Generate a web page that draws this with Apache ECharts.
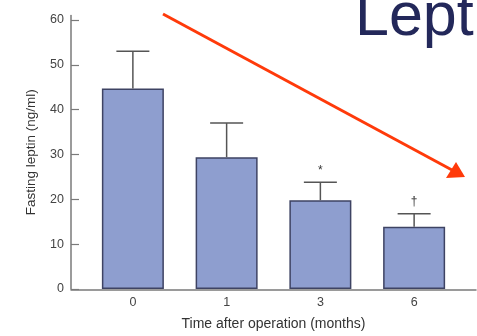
<!DOCTYPE html>
<html><head><meta charset="utf-8">
<script src="https://cdn.jsdelivr.net/npm/echarts@6/dist/echarts.min.js"></script>
<style>html,body{margin:0;padding:0;background:#fff}#c{width:477px;height:336px}</style>
</head><body><div id="c"></div>
<script>
var categories = ['0', '1', '3', '6'];
var means = [44.7, 29.4, 19.8, 13.9];
var upperErr = [53.0, 37.0, 23.8, 16.8];
var marks = ['', '', '*', '†'];
var yTicks = [0, 10, 20, 30, 40, 50, 60];

var chart = echarts.init(document.getElementById('c'));
var axisCol = '#7a7a7a';
var option = {
  animation: false,
  grid: [
    {left: 86, right: 16, top: 15.5, bottom: 46},
    {left: 71, right: 1, top: 15.5, bottom: 46}
  ],
  xAxis: [
    {type: 'category', gridIndex: 0, data: categories,
     axisLine: {show: false}, axisTick: {show: false},
     axisLabel: {color: '#444', fontSize: 12.5, fontFamily: 'Liberation Sans', margin: 7},
     name: 'Time after operation (months)', nameLocation: 'middle', nameGap: 28,
     nameTextStyle: {color: '#333', fontSize: 14, fontFamily: 'Liberation Sans'}},
    {type: 'value', gridIndex: 1, min: 0, max: 1,
     axisLine: {show: true, lineStyle: {color: axisCol, width: 1.5}},
     axisTick: {show: false}, axisLabel: {show: false}, splitLine: {show: false}}
  ],
  yAxis: [
    {type: 'value', gridIndex: 0, min: 0, max: 61, interval: 10, offset: 15,
     axisLine: {show: true, lineStyle: {color: axisCol, width: 1.5}},
     axisTick: {show: true, inside: true, length: 8, lineStyle: {color: axisCol, width: 1.2}, customValues: yTicks},
     axisLabel: {color: '#444', fontSize: 12.5, fontFamily: 'Liberation Sans', margin: 7, customValues: yTicks},
     splitLine: {show: false},
     name: 'Fasting leptin (ng/ml)', nameLocation: 'middle', nameGap: 33,
     nameTextStyle: {color: '#333', fontSize: 13.5, fontFamily: 'Liberation Sans'}},
    {type: 'value', gridIndex: 1, show: false, min: 0, max: 1}
  ],
  series: [
    {type: 'bar', xAxisIndex: 0, yAxisIndex: 0, data: means, barWidth: 62,
     itemStyle: {color: '#8e9ecf', borderColor: '#3e4363', borderWidth: 1.5}, z: 2},
    {type: 'custom', xAxisIndex: 0, yAxisIndex: 0, z: 3,
     data: categories.map(function (c, i) { return [i, means[i], upperErr[i], marks[i]]; }),
     renderItem: function (params, api) {
       var i = api.value(0);
       var base = api.coord([i, api.value(1)]);
       var top = api.coord([i, api.value(2)]);
       var half = 16.5;
       var st = {stroke: '#555', lineWidth: 1.5};
       var children = [
         {type: 'line', shape: {x1: base[0], y1: base[1], x2: top[0], y2: top[1]}, style: st},
         {type: 'line', shape: {x1: top[0] - half, y1: top[1], x2: top[0] + half, y2: top[1]}, style: st}
       ];
       var m = marks[params.dataIndex];
       if (m) {
         children.push({type: 'text', x: top[0], y: top[1] - 6,
           style: {text: m, fill: '#333', font: '12px Liberation Sans', align: 'center', verticalAlign: 'bottom'}});
       }
       return {type: 'group', children: children};
     }}
  ],
  graphic: [
    {type: 'text', left: 355, top: -12,
     style: {text: 'Lept', fill: '#23285a', font: '61px Liberation Sans'}},
    {type: 'line', shape: {x1: 163, y1: 14, x2: 452, y2: 170},
     style: {stroke: '#ff3a0a', lineWidth: 3}},
    {type: 'polygon', shape: {points: [[465, 177], [446, 178], [456, 162]]},
     style: {fill: '#ff3a0a'}}
  ]
};
chart.setOption(option);
</script></body></html>
